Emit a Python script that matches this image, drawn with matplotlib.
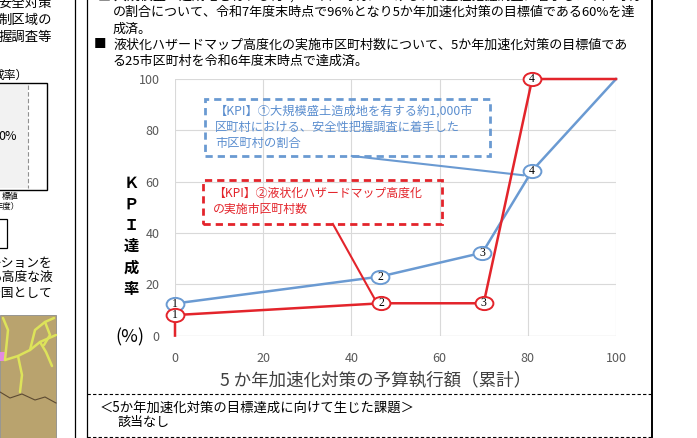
import matplotlib
matplotlib.use('Agg')
import matplotlib.pyplot as plt
from matplotlib.patches import Rectangle
from matplotlib.markers import MarkerStyle
from matplotlib.transforms import Affine2D

plt.rcParams['font.family'] = ['Noto Sans CJK JP', 'DejaVu Sans']

#==============================
# data
kpi1_x = [0, 46.5, 69.7, 81, 100]
kpi1_y = [12.5, 23, 32.3, 64.3, 100]
kpi2_x = [0, 0, 46.8, 70, 81, 100]
kpi2_y = [0, 8, 12.6, 12.6, 100, 100]
kpi1_labels = ['1', '2', '3', '4', '']
kpi2_labels = ['', '1', '2', '3', '4', '']

ticks = [0, 20, 40, 60, 80, 100]

kpi1_text = '【KPI】①大規模盛土造成地を有する約1,000市\n区町村における、安全性把握調査に着手した\n市区町村の割合'
kpi2_text = '【KPI】②液状化ハザードマップ高度化\nの実施市区町村数'
xlabel = '5 か年加速化対策の予算執行額（累計）'
ylabel_chars = ['Ｋ', 'Ｐ', 'Ｉ', '達', '成', '率']

top_lines = ['■ 大規模盛土造成地を有する約1,000市区町村における、安全性把握調査に着手した市区町村',
             'の割合について、令和7年度末時点で96%となり5か年加速化対策の目標値である60%を達',
             '成済。',
             '液状化ハザードマップ高度化の実施市区町村数について、5か年加速化対策の目標値であ',
             'る25市区町村を令和6年度末時点で達成済。']
left_lines = ['安全対策', '制区域の', '握調査等']
left_lines2 = ['ーションを', 'る高度な液', 'を国として']

blue = '#6A9AD2'
red = '#E3242B'
blue_txt = '#5B8ECF'
grey = '#595959'

#==============================
W, H = 697, 438
fig = plt.figure(figsize=(W / 100, H / 100), dpi=100)

page = fig.add_axes([0, 0, 1, 1])
page.set_xlim(0, W)
page.set_ylim(H, 0)
page.axis('off')

# panel borders
for x, lw in [(75, 0.9), (87, 0.9), (652, 1.4)]:
    page.plot([x, x], [0, H], color='black', lw=lw)
for y in [394, 437]:
    page.plot([87, 652], [y, y], color='black', lw=0.8, ls=(0, (3, 2)))

# text above the chart
top_y = [-4, 12, 29, 45, 61]
for i, (s, y) in enumerate(zip(top_lines, top_y)):
    if i == 0:
        page.text(98, y, s, fontsize=9.4, va='center', ha='left')
    else:
        page.text(113, y, s, fontsize=9.4, va='center', ha='left')
page.text(100, 45, '■', fontsize=9, va='center', ha='center')

# bottom text
page.text(100, 408, '＜5か年加速化対策の目標達成に向けて生じた課題＞', fontsize=9.6, va='center')
page.text(118, 422, '該当なし', fontsize=9.4, va='center')

# left neighbouring panel (cropped)
for s, y in zip(left_lines, [3, 20, 37]):
    page.text(52, y, s, fontsize=9.6, va='center', ha='right')
page.text(28, 75, '成率）', fontsize=8.5, va='center', ha='right')
page.add_patch(Rectangle((-2, 83), 49, 107, fc='white', ec='black', lw=1.0))
page.add_patch(Rectangle((-2, 85), 30, 103, fc='#F2F2F2', ec='none'))
page.plot([28, 28], [85, 188], color='#909090', lw=0.8, ls=(0, (4, 2)))
page.text(17, 136, '0%', fontsize=9, va='center', ha='right')
page.text(18, 197, '標値', fontsize=6, va='center', ha='right')
page.text(20, 206, '年度）', fontsize=6, va='center', ha='right')
page.add_patch(Rectangle((-2, 219), 9, 29, fc='white', ec='black', lw=0.9))
for s, y in zip(left_lines2, [263, 278, 293]):
    page.text(53, y, s, fontsize=9.2, va='center', ha='right')
# map thumbnail
page.add_patch(Rectangle((0, 315), 56, 125, fc='#B9A36E', ec='#8C8C8C', lw=0.6))
for xs, ys in [([56, 40, 30, 18, 5], [335, 342, 350, 356, 360]),
               ([30, 35, 45, 54], [350, 330, 322, 318]),
               ([40, 46, 52], [342, 352, 366]),
               ([18, 22, 20], [356, 375, 392]),
               ([5, 8, 3], [360, 330, 318]),
               ([45, 50, 44], [322, 335, 345])]:
    page.plot(xs, ys, color='#DDE35A', lw=1.8, solid_capstyle='round')
page.plot([0, 10, 22, 35, 45, 56], [392, 398, 394, 400, 397, 403], color='#5C4A32', lw=0.8)
page.add_patch(Rectangle((0, 352), 5, 9, fc='#E28AE0', ec='none'))

#==============================
# the chart
x0, x1, y0, y1 = 175, 616, 335.6, 79
ax = fig.add_axes([x0 / W, 1 - y0 / H, (x1 - x0) / W, (y0 - y1) / H])
ax.set_zorder(2)
ax.patch.set_visible(False)
ax.set_xlim(0, 100)
ax.set_ylim(0, 100)
ax.set_xticks(ticks)
ax.set_yticks(ticks)
ax.grid(color='#D9D9D9', lw=0.8)
ax.set_axisbelow(True)
for sp in ax.spines.values():
    sp.set_visible(False)
ax.axhline(0, color='#BFBFBF', lw=0.8, zorder=1)
ax.tick_params(length=0, labelsize=9, labelcolor=grey)
ax.tick_params(axis='y', pad=11)
ax.tick_params(axis='x', pad=12)

ax.plot(kpi1_x, kpi1_y, color=blue, lw=1.8, zorder=3, clip_on=False)
ax.plot(kpi2_x, kpi2_y, color=red, lw=1.8, zorder=4, clip_on=False)

# callout boxes with leader lines
ax.add_patch(Rectangle((6.8, 70), 64.6, 22.3, fill=False, ec=blue, lw=2,
                       ls=(0, (2.6, 1.8)), zorder=5))
ax.text(9.1, 81.2, kpi1_text, color=blue_txt, fontsize=8.8, va='center', ha='left',
        linespacing=1.35, zorder=5)
ax.plot([40.1, 78.9], [70, 62.5], color=blue, lw=1.5, zorder=3)

ax.add_patch(Rectangle((6.3, 43.5), 54.2, 17.1, fill=False, ec=red, lw=2,
                       ls=(0, (2.6, 1.8)), zorder=5))
ax.text(8.6, 52.2, kpi2_text, color=red, fontsize=8.6, va='center', ha='left',
        linespacing=1.35, zorder=5)
ax.plot([35.8, 45.4], [43.5, 13.9], color=red, lw=1.5, zorder=4)

# numbered ellipse labels on the points
oval = MarkerStyle('o', transform=Affine2D().scale(1.35, 1.0))
for xs, ys, labels, col, z in [(kpi1_x, kpi1_y, kpi1_labels, blue, 6),
                               (kpi2_x, kpi2_y, kpi2_labels, red, 7)]:
    for x, y, s in zip(xs, ys, labels):
        if not s:
            continue
        ax.plot([x], [y], ls='none', marker=oval, ms=9.5, mfc='white', mec=col,
                mew=1.4, zorder=z, clip_on=False)
        ax.text(x, y, s, fontsize=8.5, family='Liberation Serif', ha='center',
                va='center', zorder=z, clip_on=False)

# axis titles
for ch, y in zip(ylabel_chars, [183, 204, 225, 246, 268, 289]):
    page.text(131, y, ch, fontsize=11, fontweight='bold', ha='center', va='center')
page.text(130, 337, '(%)', fontsize=13, ha='center', va='center')
page.text(376, 380, xlabel, fontsize=12.6, color='#404040', ha='center', va='center')

fig.savefig('out.png', dpi=100)
